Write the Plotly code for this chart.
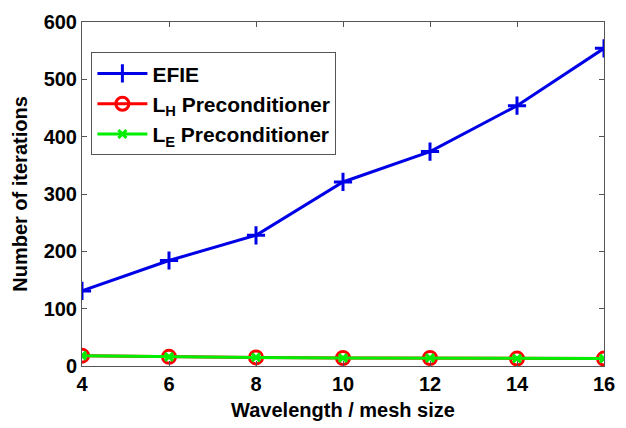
import plotly.graph_objects as go

wavelength = [4, 6, 8, 10, 12, 14, 16]
efie_iters = [131, 184, 228, 321, 374, 454, 554]
lh_iters = [18, 16, 15, 14, 14, 13, 13]
le_iters = [18, 16, 15, 14, 14, 13, 13]

font = dict(family="Liberation Sans, Arial, sans-serif", color="black")

fig = go.Figure()
fig.add_trace(go.Scatter(
    x=wavelength, y=efie_iters, mode="lines+markers", name="<b>EFIE</b>",
    line=dict(color="#0000e6", width=3),
    marker=dict(symbol="cross-thin", size=13, line=dict(color="#0000e6", width=3)),
))
fig.add_trace(go.Scatter(
    x=wavelength, y=lh_iters, mode="lines+markers", name="<b>L<sub>H</sub> Preconditioner</b>",
    line=dict(color="#ff0000", width=3),
    marker=dict(symbol="circle-open", size=13, line=dict(color="#ff0000", width=3)),
))
fig.add_trace(go.Scatter(
    x=wavelength, y=le_iters, mode="lines+markers", name="<b>L<sub>E</sub> Preconditioner</b>",
    line=dict(color="#00ee00", width=3),
    marker=dict(symbol="x-thin", size=8, line=dict(color="#00ee00", width=3)),
))

axis_common = dict(
    showline=True, linecolor="#555555", linewidth=1, mirror="ticks",
    ticks="inside", ticklen=5, tickcolor="#555555",
    showgrid=False, zeroline=False,
    tickfont=dict(size=20, **font),
)

fig.update_layout(
    width=626, height=428,
    margin=dict(l=82, r=11, t=13, b=62),
    paper_bgcolor="white", plot_bgcolor="white",
    font=font,
    xaxis=dict(range=[4, 16], tickvals=wavelength,
               ticktext=[f"<b>{v}</b>" for v in wavelength],
               title=dict(text="<b>Wavelength / mesh size</b>", font=dict(size=20, **font), standoff=8),
               **axis_common),
    yaxis=dict(range=[0, 600], tickvals=[0, 100, 200, 300, 400, 500, 600],
               ticktext=[f"<b>{v}</b>" for v in [0, 100, 200, 300, 400, 500, 600]],
               title=dict(text="<b>Number of iterations</b>", font=dict(size=20, **font), standoff=10),
               **axis_common),
    legend=dict(x=0.018, y=0.912, xanchor="left", yanchor="top",
                bgcolor="white", bordercolor="#555555", borderwidth=1,
                font=dict(size=21, **font), tracegroupgap=0, itemwidth=50),
    showlegend=True,
)

fig.write_html("out.html")
